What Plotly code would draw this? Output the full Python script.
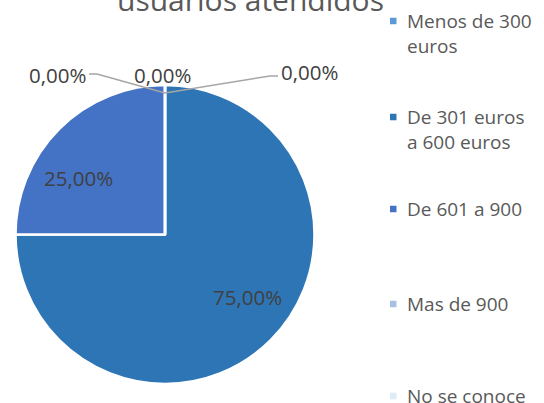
import plotly.graph_objects as go

# ---- data ----
categories = ["Menos de 300 euros", "De 301 euros a 600 euros", "De 601 a 900", "Mas de 900", "No se conoce"]
legend_labels = ["Menos de 300<br>euros", "De 301 euros<br>a 600 euros", "De 601 a 900", "Mas de 900", "No se conoce"]
values = [0, 75, 25, 0, 0]
colors = ["#5B9BD5", "#2E75B6", "#4472C4", "#A9BFE4", "#DDEBF7"]
title_text = "usuarios atendidos"

W, H = 544, 403
FONT = "Open Sans"
GREY = "#595959"

def px_x(x):
    return x / W

def px_y(y):
    return 1 - y / H

total = sum(values)
pct_text = [f"{v / total * 100:.2f}%".replace(".", ",") for v in values]

fig = go.Figure()
fig.add_trace(go.Pie(
    labels=categories,
    values=values,
    sort=False,
    direction="clockwise",
    rotation=0,
    marker=dict(colors=colors, line=dict(color="white", width=2.5)),
    textinfo="none",
    hoverinfo="label+percent",
    showlegend=False,
    domain=dict(x=[px_x(15), px_x(315)], y=[px_y(384), px_y(85)]),
))

annotations = []
shapes = []

# title (partly cut at the top as in the reference)
annotations.append(dict(
    text=title_text, x=px_x(250), y=px_y(22), xref="paper", yref="paper",
    xanchor="center", yanchor="bottom", showarrow=False,
    font=dict(family=FONT, size=30, color=GREY),
))

# data labels
label_pos = {1: (247, 297), 2: (78, 178), 0: (57, 75), 3: (162, 75), 4: (309, 72)}
for i, (x, y) in label_pos.items():
    annotations.append(dict(
        text=pct_text[i], x=px_x(x), y=px_y(y), xref="paper", yref="paper",
        xanchor="center", yanchor="middle", showarrow=False,
        font=dict(family=FONT, size=20.5, color="#404040"),
    ))

# leader lines for zero slices
line_style = dict(color="#A6A6A6", width=1.5)
shapes.append(dict(type="path", xref="paper", yref="paper",
                   path=f"M {px_x(89)} {px_y(74)} L {px_x(97)} {px_y(74)} L {px_x(165)} {px_y(93)}",
                   line=line_style))
shapes.append(dict(type="path", xref="paper", yref="paper",
                   path=f"M {px_x(165)} {px_y(93)} L {px_x(270)} {px_y(76)} L {px_x(278)} {px_y(76)}",
                   line=line_style))

# manual legend
legend_y = [21, 117, 209, 304, 396]
line_h = 19 * 1.3
for lab, col, yc in zip(legend_labels, colors, legend_y):
    shapes.append(dict(type="rect", xref="paper", yref="paper",
                       x0=px_x(390), x1=px_x(396.5), y0=px_y(yc + 3.25), y1=px_y(yc - 3.25),
                       fillcolor=col, line=dict(width=0)))
    n = lab.count("<br>")
    annotations.append(dict(
        text=lab, x=px_x(405), y=px_y(yc + n * line_h / 2), xref="paper", yref="paper",
        xanchor="left", yanchor="middle", align="left", showarrow=False,
        font=dict(family=FONT, size=19, color=GREY),
    ))

fig.update_layout(
    width=W, height=H,
    margin=dict(l=0, r=0, t=0, b=0),
    paper_bgcolor="white", plot_bgcolor="white",
    annotations=annotations, shapes=shapes,
    font=dict(family=FONT),
)

fig.write_html("out.html", config={"displayModeBar": False},
               post_script="document.body.style.margin='0px';")
